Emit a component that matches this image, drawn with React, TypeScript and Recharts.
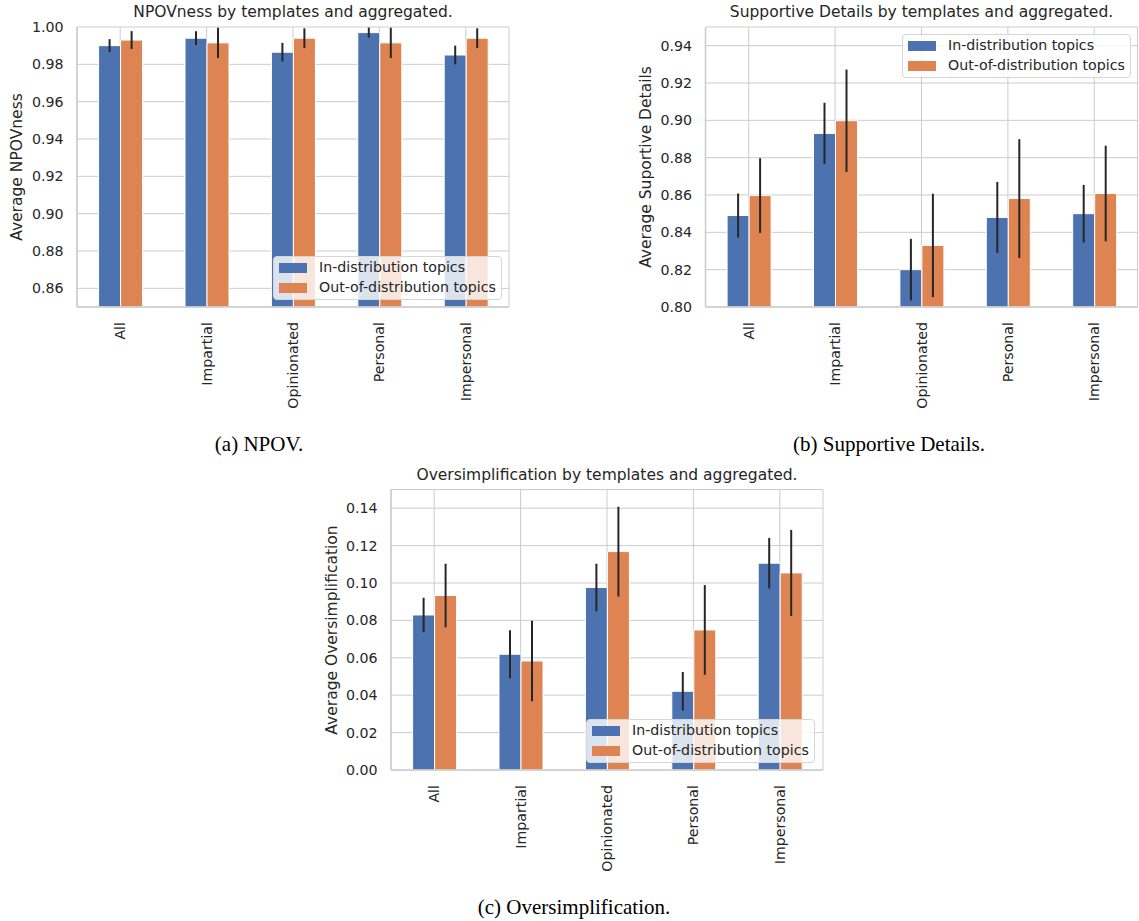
import React from "react";
import {
  BarChart,
  Bar,
  XAxis,
  YAxis,
  CartesianGrid,
  ErrorBar,
  Legend,
} from "recharts";

const categories = ["All", "Impartial", "Opinionated", "Personal", "Impersonal"];

const npovIn = [0.99, 0.994, 0.9865, 0.997, 0.985];
const npovInErr = [0.0035, 0.0037, 0.005, 0.0027, 0.005];
const npovOut = [0.993, 0.9915, 0.994, 0.9915, 0.994];
const npovOutErr = [0.0048, 0.0081, 0.0053, 0.0081, 0.0053];
const npovTicks = [0.86, 0.88, 0.9, 0.92, 0.94, 0.96, 0.98, 1.0];

const supportIn = [0.849, 0.893, 0.82, 0.848, 0.85];
const supportInErr = [0.0118, 0.0164, 0.0165, 0.019, 0.0154];
const supportOut = [0.8597, 0.8998, 0.833, 0.8581, 0.8608];
const supportOutErr = [0.02, 0.0274, 0.0277, 0.0318, 0.0256];
const supportTicks = [0.8, 0.82, 0.84, 0.86, 0.88, 0.9, 0.92, 0.94];

const oversimpIn = [0.0829, 0.0619, 0.0976, 0.0421, 0.1106];
const oversimpInErr = [0.0092, 0.0128, 0.0127, 0.0103, 0.0135];
const oversimpOut = [0.0933, 0.0583, 0.1168, 0.0749, 0.1054];
const oversimpOutErr = [0.017, 0.0215, 0.024, 0.024, 0.023];
const oversimpTicks = [0, 0.02, 0.04, 0.06, 0.08, 0.1, 0.12, 0.14];

const BLUE = "#4c72b0";
const ORANGE = "#dd8452";
const INK = "#262626";
const EDGE = "#cccccc";
const SANS = "'DejaVu Sans', sans-serif";
const SERIF = "'Liberation Serif', serif";

function buildRows(a: number[], aErr: number[], b: number[], bErr: number[]) {
  return categories.map((name, i) => ({
    name,
    inD: a[i],
    inErr: aErr[i],
    outD: b[i],
    outErr: bErr[i],
  }));
}

function XTick(props: any) {
  const { x, y, payload } = props;
  return (
    <text
      x={x}
      y={y}
      transform={`rotate(-90 ${x} ${y})`}
      textAnchor="end"
      dominantBaseline="central"
      fill={INK}
      fontSize={14.2}
      fontFamily={SANS}
    >
      {payload.value}
    </text>
  );
}

function LegendBox(props: any) {
  const items = props.payload || [];
  return (
    <div
      style={{
        position: "relative",
        width: 229,
        height: 44,
        boxSizing: "border-box",
        border: "1px solid #d6d6d6",
        borderRadius: 4,
        background: "rgba(255,255,255,0.8)",
        fontFamily: SANS,
        fontSize: 14.2,
        color: INK,
      }}
    >
      {items.map((p: any, i: number) => (
        <div
          key={p.value}
          style={{
            position: "absolute",
            left: 5,
            top: 5 + i * 20,
            height: 11,
            display: "flex",
            alignItems: "center",
          }}
        >
          <span
            style={{
              display: "inline-block",
              width: 28,
              height: 10,
              background: p.color,
            }}
          />
          <span style={{ marginLeft: 12, whiteSpace: "nowrap", lineHeight: "11px" }}>
            {p.value}
          </span>
        </div>
      ))}
    </div>
  );
}

interface PanelProps {
  left: number;
  top: number;
  width: number;
  height: number;
  margin: { top: number; right: number; bottom: number; left: number };
  yAxisWidth: number;
  xAxisHeight: number;
  domain: [number, number];
  ticks: number[];
  rows: any[];
  legendPos: { left: number; top: number };
}

function Panel(p: PanelProps) {
  return (
    <div style={{ position: "absolute", left: p.left, top: p.top }}>
      <BarChart
        width={p.width}
        height={p.height}
        data={p.rows}
        margin={p.margin}
        barCategoryGap="25%"
        barGap={0}
      >
        <CartesianGrid stroke={EDGE} strokeWidth={1} />
        <XAxis
          dataKey="name"
          height={p.xAxisHeight}
          tickLine={false}
          tickSize={0}
          tickMargin={15}
          axisLine={{ stroke: EDGE, strokeWidth: 1.5 }}
          tick={<XTick />}
          interval={0}
        />
        <XAxis
          xAxisId="top"
          dataKey="name"
          orientation="top"
          height={0}
          tick={false}
          tickLine={false}
          axisLine={{ stroke: EDGE, strokeWidth: 1.5 }}
        />
        <YAxis
          width={p.yAxisWidth}
          domain={p.domain}
          ticks={p.ticks}
          allowDataOverflow
          tickLine={false}
          tickSize={0}
          tickMargin={13.5}
          axisLine={{ stroke: EDGE, strokeWidth: 1.5 }}
          tickFormatter={(v: number) => v.toFixed(2)}
          tick={{ fill: INK, fontSize: 14.2, fontFamily: SANS }}
        />
        <YAxis
          yAxisId="right"
          orientation="right"
          width={0}
          tick={false}
          tickLine={false}
          axisLine={{ stroke: EDGE, strokeWidth: 1.5 }}
        />
        <Legend
          layout="vertical"
          align="center"
          verticalAlign="middle"
          wrapperStyle={{ left: p.legendPos.left, top: p.legendPos.top }}
          content={<LegendBox />}
        />
        <Bar
          dataKey="inD"
          name="In-distribution topics"
          fill={BLUE}
          stroke="#ffffff"
          strokeWidth={1}
          isAnimationActive={false}
        >
          <ErrorBar
            dataKey="inErr"
            direction="y"
            width={0}
            stroke={INK}
            strokeWidth={2}
            isAnimationActive={false}
          />
        </Bar>
        <Bar
          dataKey="outD"
          name="Out-of-distribution topics"
          fill={ORANGE}
          stroke="#ffffff"
          strokeWidth={1}
          isAnimationActive={false}
        >
          <ErrorBar
            dataKey="outErr"
            direction="y"
            width={0}
            stroke={INK}
            strokeWidth={2}
            isAnimationActive={false}
          />
        </Bar>
      </BarChart>
    </div>
  );
}

function Label(props: {
  x: number;
  y: number;
  text: string;
  size: number;
  family: string;
  color: string;
  rotate?: boolean;
}) {
  return (
    <div
      style={{
        position: "absolute",
        left: props.x,
        top: props.y,
        transform: `translate(-50%, -50%)${props.rotate ? " rotate(-90deg)" : ""}`,
        whiteSpace: "nowrap",
        fontFamily: props.family,
        fontSize: props.size,
        color: props.color,
        lineHeight: 1.15,
      }}
    >
      {props.text}
    </div>
  );
}

export default function App() {
  return (
    <div
      style={{
        position: "absolute",
        left: 0,
        top: 0,
        width: 1139,
        height: 921,
        background: "#ffffff",
        overflow: "hidden",
      }}
    >
      <Panel
        left={0}
        top={0}
        width={520}
        height={420}
        margin={{ top: 27, right: 11, bottom: 0, left: 0 }}
        yAxisWidth={77}
        xAxisHeight={113}
        domain={[0.85, 1.0]}
        ticks={npovTicks}
        rows={buildRows(npovIn, npovInErr, npovOut, npovOutErr)}
        legendPos={{ left: 273, top: 256 }}
      />
      <Panel
        left={640}
        top={0}
        width={499}
        height={420}
        margin={{ top: 27, right: 1.5, bottom: 0, left: 0 }}
        yAxisWidth={65.5}
        xAxisHeight={113}
        domain={[0.8, 0.95]}
        ticks={supportTicks}
        rows={buildRows(supportIn, supportInErr, supportOut, supportOutErr)}
        legendPos={{ left: 262, top: 34 }}
      />
      <Panel
        left={320}
        top={460}
        width={520}
        height={420}
        margin={{ top: 29.5, right: 17, bottom: 0, left: 0 }}
        yAxisWidth={71}
        xAxisHeight={110}
        domain={[0, 0.15]}
        ticks={oversimpTicks}
        rows={buildRows(oversimpIn, oversimpInErr, oversimpOut, oversimpOutErr)}
        legendPos={{ left: 266, top: 259 }}
      />

      <Label x={293} y={13} text="NPOVness by templates and aggregated." size={15.5} family={SANS} color={INK} />
      <Label x={921.5} y={13} text="Supportive Details by templates and aggregated." size={15.5} family={SANS} color={INK} />
      <Label x={607} y={476} text="Oversimplification by templates and aggregated." size={15.5} family={SANS} color={INK} />

      <Label x={18} y={167} text="Average NPOVness" size={15.5} family={SANS} color={INK} rotate />
      <Label x={647} y={167} text="Average Suportive Details" size={15.5} family={SANS} color={INK} rotate />
      <Label x={333} y={630} text="Average Oversimplification" size={15.5} family={SANS} color={INK} rotate />

      <Label x={259} y={444} text="(a) NPOV." size={21} family={SERIF} color="#000000" />
      <Label x={889} y={444} text="(b) Supportive Details." size={21} family={SERIF} color="#000000" />
      <Label x={574} y={907} text="(c) Oversimplification." size={21} family={SERIF} color="#000000" />
    </div>
  );
}
